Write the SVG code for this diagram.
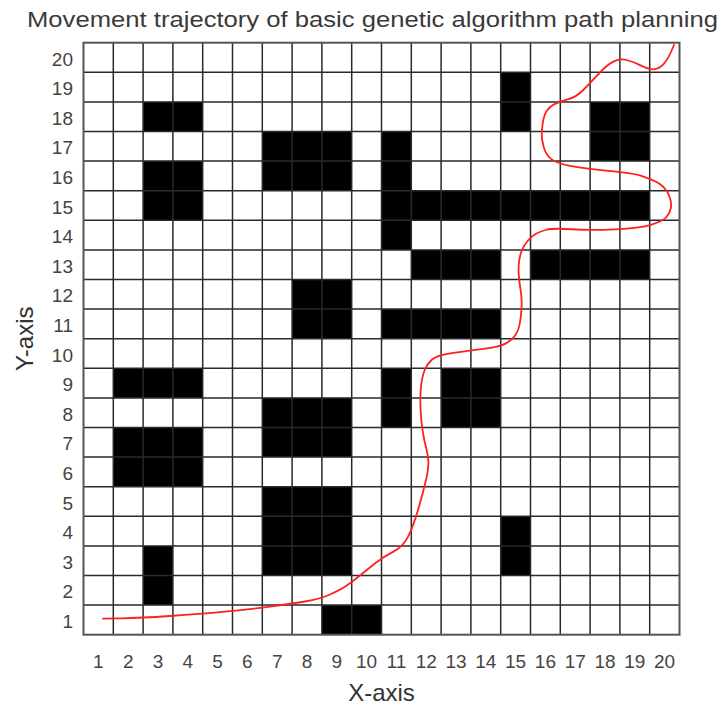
<svg xmlns="http://www.w3.org/2000/svg" width="727" height="708" viewBox="0 0 727 708">
<style>
.t{font-family:"Liberation Sans",Arial,sans-serif;fill:#3a3a3a}
.tick{font-size:19px;fill:#444}
.yt{text-anchor:end}
.xt{text-anchor:middle}
.ax{font-size:24px;text-anchor:middle;fill:#333}
.obs{fill:#000}
.gl{stroke:#2a2a2a;stroke-width:1.5;fill:none}
.path{fill:none;stroke:#ff2020;stroke-width:1.8;stroke-linejoin:round;stroke-linecap:round}
</style>
<rect width="727" height="708" fill="#fff"/>
<text id="title" class="t" x="27" y="27" font-size="22" textLength="691" lengthAdjust="spacingAndGlyphs" fill="#333">Movement trajectory of basic genetic algorithm path planning</text>
<g id="grid">
<rect x="83.5" y="42.7" width="596" height="592" fill="#fff"/>
<g id="obstacles" class="obs">
<rect x="500.7" y="72.3" width="29.8" height="59.2"/>
<rect x="143.1" y="101.9" width="59.6" height="29.6"/>
<rect x="590.1" y="101.9" width="59.6" height="59.2"/>
<rect x="262.3" y="131.5" width="89.4" height="59.2"/>
<rect x="381.5" y="131.5" width="29.8" height="118.4"/>
<rect x="143.1" y="161.1" width="59.6" height="59.2"/>
<rect x="411.3" y="190.7" width="238.4" height="29.6"/>
<rect x="411.3" y="249.9" width="89.4" height="29.6"/>
<rect x="530.5" y="249.9" width="119.2" height="29.6"/>
<rect x="292.1" y="279.5" width="59.6" height="59.2"/>
<rect x="381.5" y="309.1" width="119.2" height="29.6"/>
<rect x="113.3" y="368.3" width="89.4" height="29.6"/>
<rect x="381.5" y="368.3" width="29.8" height="59.2"/>
<rect x="441.1" y="368.3" width="59.6" height="59.2"/>
<rect x="262.3" y="397.9" width="89.4" height="59.2"/>
<rect x="113.3" y="427.5" width="89.4" height="59.2"/>
<rect x="262.3" y="486.7" width="89.4" height="88.8"/>
<rect x="500.7" y="516.3" width="29.8" height="59.2"/>
<rect x="143.1" y="545.9" width="29.8" height="59.2"/>
<rect x="321.9" y="605.1" width="59.6" height="29.6"/>
</g>
<path class="gl" d="M113.3 42.7V634.7M143.1 42.7V634.7M172.9 42.7V634.7M202.7 42.7V634.7M232.5 42.7V634.7M262.3 42.7V634.7M292.1 42.7V634.7M321.9 42.7V634.7M351.7 42.7V634.7M381.5 42.7V634.7M411.3 42.7V634.7M441.1 42.7V634.7M470.9 42.7V634.7M500.7 42.7V634.7M530.5 42.7V634.7M560.3 42.7V634.7M590.1 42.7V634.7M619.9 42.7V634.7M649.7 42.7V634.7M83.5 72.3H679.5M83.5 101.9H679.5M83.5 131.5H679.5M83.5 161.1H679.5M83.5 190.7H679.5M83.5 220.3H679.5M83.5 249.9H679.5M83.5 279.5H679.5M83.5 309.1H679.5M83.5 338.7H679.5M83.5 368.3H679.5M83.5 397.9H679.5M83.5 427.5H679.5M83.5 457.1H679.5M83.5 486.7H679.5M83.5 516.3H679.5M83.5 545.9H679.5M83.5 575.5H679.5M83.5 605.1H679.5"/>
<rect x="83.5" y="42.7" width="596" height="592" fill="none" stroke="#555" stroke-width="2"/>
</g>
<g id="connectors">
<path class="path" d="M103,618.7 L121.5,618.35 Q140,618 170,616 Q200,614 225,611.65 Q250,609.3 270,606.65 Q290,604 305,601.5 Q320,599 330,594.5 Q340,590 346,586 Q352,582 360,575.5 Q368,569 375.5,563 Q383,557 393,551.85 Q403,546.7 408,536.85 Q413,527 418,510 Q423,493 426.5,478 Q430,463 427,451.5 Q424,440 422.5,430 Q421,420 420.5,408.35 Q420,396.7 421,386.85 Q422,377 424.5,370.5 Q427,364 432,359.5 Q437,355 453.5,352.85 Q470,350.7 485,348.7 Q500,346.7 506,343.35 Q512,340 515.5,335 Q519,330 520.35,320 Q521.7,310 521.7,303.35 Q521.7,296.7 520.35,288.35 Q519,280 518.65,273.35 Q518.3,266.7 519.15,260.85 Q520,255 522,250 Q524,245 528,240.5 Q532,236 536,233.75 Q540,231.5 546.5,229.75 Q553,228 571.5,229.25 Q590,230.5 615,229.4 Q640,228.3 651.5,224.65 Q663,221 666.5,217 Q670,213 670.85,208 Q671.7,203 669.85,197.5 Q668,192 664,187.65 Q660,183.3 652.5,180.15 Q645,177 639.15,175.15 Q633.3,173.3 608.3,170.8 Q583.3,168.3 570,165.8 Q556.7,163.3 551.35,159.15 Q546,155 543.85,147.5 Q541.7,140 541.7,135 Q541.7,130 542.85,122.5 Q544,115 547,110.5 Q550,106 555,103.85 Q560,101.7 568.35,99.2 Q576.7,96.7 583.35,90 Q590,83.3 598.35,74.15 Q606.7,65 613.35,61.65 Q620,58.3 626.65,60 Q633.3,61.7 641.65,65.85 Q650,70 655,69.15 Q660,68.3 664,63.65 Q668,59 671,52 L674,45"/>
</g>
<g id="yticks" class="t tick yt">
<text x="73" y="65.5">20</text>
<text x="73" y="95.1">19</text>
<text x="73" y="124.7">18</text>
<text x="73" y="154.3">17</text>
<text x="73" y="183.9">16</text>
<text x="73" y="213.5">15</text>
<text x="73" y="243.1">14</text>
<text x="73" y="272.7">13</text>
<text x="73" y="302.3">12</text>
<text x="73" y="331.9">11</text>
<text x="73" y="361.5">10</text>
<text x="73" y="391.1">9</text>
<text x="73" y="420.7">8</text>
<text x="73" y="450.3">7</text>
<text x="73" y="479.9">6</text>
<text x="73" y="509.5">5</text>
<text x="73" y="539.1">4</text>
<text x="73" y="568.7">3</text>
<text x="73" y="598.3">2</text>
<text x="73" y="627.9">1</text>
</g>
<g id="xticks" class="t tick xt">
<text x="98.4" y="668">1</text>
<text x="128.2" y="668">2</text>
<text x="158" y="668">3</text>
<text x="187.8" y="668">4</text>
<text x="217.6" y="668">5</text>
<text x="247.4" y="668">6</text>
<text x="277.2" y="668">7</text>
<text x="307" y="668">8</text>
<text x="336.8" y="668">9</text>
<text x="366.6" y="668">10</text>
<text x="396.4" y="668">11</text>
<text x="426.2" y="668">12</text>
<text x="456" y="668">13</text>
<text x="485.8" y="668">14</text>
<text x="515.6" y="668">15</text>
<text x="545.4" y="668">16</text>
<text x="575.2" y="668">17</text>
<text x="605" y="668">18</text>
<text x="634.8" y="668">19</text>
<text x="664.6" y="668">20</text>
</g>
<text id="xlabel" class="t ax" x="381.5" y="701">X-axis</text>
<text id="ylabel" class="t ax" transform="translate(33 338.7) rotate(-90)">Y-axis</text>
</svg>
